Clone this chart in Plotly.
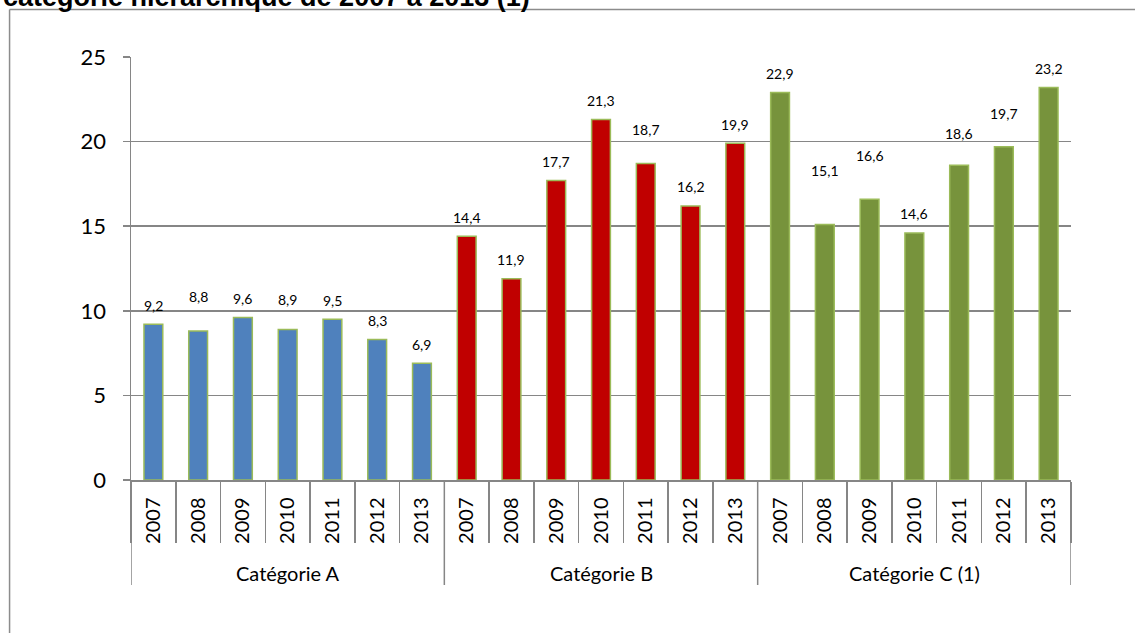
import plotly.graph_objects as go

# ---------------- data ----------------
years = ["2007", "2008", "2009", "2010", "2011", "2012", "2013"]
categories = ["Catégorie A", "Catégorie B", "Catégorie C (1)"]
cat_a = [9.2, 8.8, 9.6, 8.9, 9.5, 8.3, 6.9]
cat_b = [14.4, 11.9, 17.7, 21.3, 18.7, 16.2, 19.9]
cat_c = [22.9, 15.1, 16.6, 14.6, 18.6, 19.7, 23.2]
y_ticks = [0, 5, 10, 15, 20, 25]
title_text = "catégorie hiérarchique de 2007 à 2013 (1)"

# ---------------- style ----------------
W, H = 1135, 633
ML, MR, MT, MB = 131, 63.5, 57, 153
PW, PH = W - ML - MR, H - MT - MB
GRAY = "#868686"
FONT = "Lato"
fills = ["#4F81BD", "#C00000", "#77933C"]
outline = "#9BBB59"
# extra vertical displacement of some data labels (px), as in the original
label_extra = {(0, 1): 16, (0, 3): 11, (1, 4): 15,
               (2, 1): 35, (2, 2): 25, (2, 4): 13, (2, 5): 14}


def px_x(p):
    return (p - ML) / PW


def px_y(p):
    return (H - MB - p) / PH


series = [cat_a, cat_b, cat_c]
fig = go.Figure()
all_keys, all_text = [], []
annotations = []
for ci, (cat, vals) in enumerate(zip(categories, series)):
    keys = [f"{cat}|{y}" for y in years]
    all_keys += keys
    all_text += years
    fig.add_trace(go.Bar(
        x=keys, y=vals, width=0.42, name=cat,
        marker=dict(color=fills[ci], line=dict(color=outline, width=1.5)),
        showlegend=False, hoverinfo="skip",
    ))
    for yi, (k, v) in enumerate(zip(keys, vals)):
        annotations.append(dict(
            x=k, y=v, xref="x", yref="y", text=f"{v:.1f}".replace(".", ","),
            showarrow=False, yanchor="middle", yshift=19 + label_extra.get((ci, yi), 0),
            font=dict(family=FONT, size=14, color="#000000"),
        ))
    # group label
    annotations.append(dict(
        x=keys[3], y=px_y(573), xref="x", yref="paper", text=cat, showarrow=False,
        yanchor="middle", font=dict(family=FONT, size=20, color="#000000"),
    ))

# title (partly cut off at top, as in the original)
annotations.append(dict(
    x=px_x(1), y=px_y(-3), xref="paper", yref="paper", text=f"<b>{title_text}</b>",
    showarrow=False, xanchor="left", yanchor="middle",
    font=dict(family="Liberation Sans, Arial", size=27, color="#000000"),
))

shapes = []
# group dividers
n = len(years)
for g in range(len(categories) + 1):
    shapes.append(dict(type="line", xref="x", yref="paper", x0=g * n - 0.5, x1=g * n - 0.5,
                       y0=0, y1=px_y(585), line=dict(color=GRAY, width=1.5)))
# outer frame
shapes.append(dict(type="line", xref="paper", yref="paper", x0=px_x(9.5), x1=px_x(W + 5),
                   y0=px_y(9.5), y1=px_y(9.5), line=dict(color="#8C8C8C", width=1.5)))
shapes.append(dict(type="line", xref="paper", yref="paper", x0=px_x(9.5), x1=px_x(9.5),
                   y0=px_y(9.5), y1=px_y(H + 5), line=dict(color="#8C8C8C", width=1.5)))

fig.update_layout(
    width=W, height=H, margin=dict(l=ML, r=MR, t=MT, b=MB, pad=0),
    paper_bgcolor="white", plot_bgcolor="white", barmode="overlay",
    annotations=annotations, shapes=shapes,
    font=dict(family=FONT, color="#000000"),
)
fig.update_xaxes(
    type="category", categoryorder="array", categoryarray=all_keys,
    tickvals=all_keys, ticktext=all_text, tickangle=-90,
    tickfont=dict(family=FONT, size=20, color="#000000"),
    ticks="outside", tickson="boundaries", ticklen=61, tickcolor=GRAY, tickwidth=1.5,
    ticklabelstandoff=8,
    showline=True, linecolor=GRAY, linewidth=1.5, showgrid=False, zeroline=False,
    range=[-0.5, len(all_keys) - 0.5], automargin=False, fixedrange=True,
)
fig.update_yaxes(
    range=[0, 25], tickvals=y_ticks, ticks="outside", ticklen=7, tickcolor=GRAY, tickwidth=1.5,
    tickfont=dict(family=FONT, size=22, color="#000000"), ticklabelstandoff=12,
    showline=True, linecolor=GRAY, linewidth=1.5, fixedrange=True,
    showgrid=True, gridcolor=GRAY, gridwidth=1.5, zeroline=False, automargin=False,
)

fig.write_html(
    "out.html",
    config={"displayModeBar": False, "staticPlot": True},
    post_script="document.body.style.margin='0';document.body.style.overflow='hidden';",
)
